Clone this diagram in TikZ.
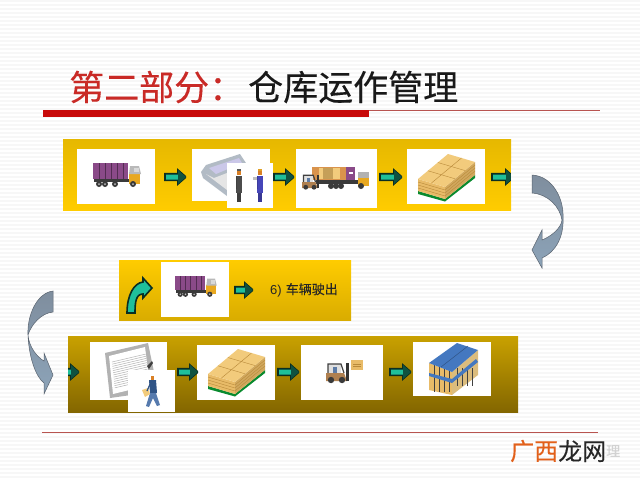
\documentclass[tikz,border=0pt]{standalone}
\usepackage{fontspec}
\usetikzlibrary{calc}
\setmainfont{Liberation Sans}
\newfontfamily\cjk[FakeBold=0.25]{Noto Sans CJK SC}
\definecolor{titlered}{HTML}{C92A26}
\definecolor{rulered}{HTML}{C80A0A}
\definecolor{thinred}{HTML}{B85450}
\definecolor{stripe}{HTML}{F7F7F7}
\definecolor{teal1}{HTML}{1FBF9A}
\definecolor{tealline}{HTML}{0A2E22}
\definecolor{cardboard}{HTML}{F2CB7C}
\definecolor{cardside}{HTML}{E8BB68}
\definecolor{cardline}{HTML}{B98A3A}
\definecolor{purplebox}{HTML}{8A4A88}
\definecolor{cabyellow}{HTML}{E8A820}
\definecolor{wheel}{HTML}{3A3A3A}
\definecolor{slate}{HTML}{7F8E9E}
\definecolor{slatelow}{HTML}{8CA3B8}
\definecolor{roofblue}{HTML}{4478C0}
\definecolor{wmorange}{HTML}{E2601A}
\definecolor{gold1}{HTML}{E6B800}
\definecolor{gold2}{HTML}{FFCC00}
\definecolor{gold3}{HTML}{D9AC00}
\definecolor{olive1}{HTML}{C9A100}
\definecolor{olive2}{HTML}{836600}
\tikzset{
  x=1pt,y=-1pt,
  whitebox/.style={fill=white,draw=none},
  blockarrow/.style={fill=teal1,draw=tealline,line width=1.6pt,line join=miter},
  curved/.style={top color=slate,bottom color=slatelow,draw=slate!70!black,line width=.5pt},
  pics/truck/.style={code={
    \fill[purplebox] (0,0) rectangle (35,16);
    \foreach \q in {6,12,18,24,30}{\draw[purplebox!60!black,line width=.5pt] (\q,0) -- (\q,16);}
    \fill[wheel] (1,16) rectangle (44,19);
    \fill[cabyellow] (36,10) rectangle (47,21);
    \fill[gray!55] (37,3) -- (46,3) -- (48,11) -- (36,11) -- cycle;
    \fill[gray!30] (41,5) rectangle (46,9);
    \foreach \q in {6,12,22,40}{\fill[wheel] (\q,21) circle (3); \fill[gray!50] (\q,21) circle (1);}
  }},
  pics/pallet/.style={code={
    \fill[green!45!black!70!teal1] (1,37) -- (28,45) -- (58,21) -- (58,24) -- (28,47.5) -- (1,40) -- cycle;
    \fill[cardside] (1,25) -- (28,33) -- (28,45) -- (1,37) -- cycle;
    \fill[cardside!90!black] (28,33) -- (58,8) -- (58,21) -- (28,45) -- cycle;
    \fill[cardboard] (1,25) -- (31,0) -- (58,8) -- (28,33) -- cycle;
    \foreach \q in {.33,.66}{
      \draw[cardline,line width=.4pt] ($(1,25)!\q!(31,0)$) -- ($(28,33)!\q!(58,8)$);
    }
    \draw[cardline,line width=.4pt] (14.5,29) -- (44.5,4);
    \foreach \q in {3,6,9}{
      \draw[cardline,line width=.4pt] (1,25+\q) -- (28,33+\q) -- (58,8+\q);
    }
  }},
  pics/forklift/.style={code={
    \fill[gray!25] (2,3) rectangle (15,12);
    \draw[gray!50!black,line width=1.2pt] (2,12) -- (2,3) -- (15,3) -- (18,12);
    \fill[roofblue!60!gray] (7,6) rectangle (11,13);
    \fill[brown!75!gray] (0,12) -- (18,12) -- (21,20) -- (0,20) -- cycle;
    \fill[gray!40!black] (20,2) rectangle (22.5,20);
    \fill[wheel] (5,19) circle (3.2) (16,19) circle (3.2);
  }},
  pics/person/.style={code={
    \fill[#1] (-2.8,7) rectangle (2.8,24);
    \fill[#1!80!black] (-2.4,24) rectangle (2.4,33);
    \fill[#1!85!black] (-3.4,7) rectangle (-1.8,20);
    \fill[brown!60!orange] (-1.8,1.5) rectangle (1.8,6);
    \fill[black!65] (-2,0) rectangle (2,2);
  }},
}
\newcommand{\rightblock}[3]{%
  \begin{scope}
  \clip (#1-1,#3-9) rectangle (#2,#3+9);
  \draw[blockarrow] (#1,#3-3.3) -- (#2-8,#3-3.3) -- (#2-8,#3-7) -- (#2,#3) -- (#2-8,#3+7) -- (#2-8,#3+3.3) -- (#1,#3+3.3) -- cycle;
  \fill[tealline!75!teal1] (#2-8,#3-7) -- (#2,#3) -- (#2-8,#3+7) -- cycle;
  \end{scope}}
\begin{document}
\begin{tikzpicture}
\useasboundingbox (0,0) rectangle (640,480);
\fill[white] (0,0) rectangle (640,480);
\foreach \q in {0,4,...,476}{\fill[stripe] (0,\q) rectangle (640,\q+2);}

% title
\node[anchor=west,inner sep=0pt,text=titlered] (t1) at (69,87) {\cjk\fontsize{35}{35}\selectfont 第二部分：};
\node[anchor=west,inner sep=0pt,text=black!90] (t2) at (248,87) {\cjk\fontsize{35}{35}\selectfont 仓库运作管理};
\draw[thinred,line width=.7pt] (43,110.5) -- (600,110.5);
\fill[rulered] (43,110) rectangle (369,117);
\draw[thinred,line width=.7pt] (42,432.5) -- (598,432.5);

% band 1
\shade[top color=gold1,bottom color=gold2] (63,139) rectangle (511,210);
\fill[whitebox] (77,149) rectangle (155,204);
\fill[whitebox] (192,149) rectangle (270,201);
\fill[whitebox] (296,149) rectangle (377,208);
\fill[whitebox] (407,149) rectangle (485,204);
\rightblock{165}{186}{177}
\rightblock{274}{294}{177}
\rightblock{380}{402}{177}
\rightblock{492}{514}{177}
\fill[white] (511,165) rectangle (517,190);
\foreach \q in {164,168,...,188}{\fill[stripe] (511,\q) rectangle (517,\q+2);}
\pic at (93,163) {truck};
% desk
\fill[slate!60] (201,172) -- (206,165) -- (240,154) -- (246,163) -- (227,172) -- (227,196) -- (203,178) -- cycle;
\fill[cyan!15!blue!20] (209,168) -- (239,158) -- (242,163) -- (216,174) -- cycle;
\fill[gray!20] (206,174) -- (214,178) -- (227,173) -- (227,190) -- cycle;
\fill[whitebox] (227,163) rectangle (273,208);
\pic at (239,169) {person=gray!60!black};
\pic at (260,169) {person=blue!45!gray};
\fill[gray!50] (253,177) rectangle (257,180);
\fill[cabyellow!80!brown] (258,169) rectangle (262,171);
% truck with forklift
\fill[brown!70!orange!85] (312,167) rectangle (346,180);
\fill[cardboard] (319,168) rectangle (340,179);
\fill[cardside!85!black] (323,168) rectangle (333,179);
\fill[purplebox] (346,167) rectangle (355,180);
\fill[white] (349,172) rectangle (353,174);
\fill[wheel] (316,180) rectangle (362,184);
\fill[cabyellow] (358,178) rectangle (369,186);
\fill[gray!60] (358,172) rectangle (369,178);
\foreach \q in {331,336,341,361}{\fill[wheel] (\q,186) circle (3);}
\pic at (302,173) [scale=.75] {forklift};
\pic at (417,154) {pallet};

% right curved arrow
\path[curved] (532,175) .. controls (552,176) and (564,198) .. (563,218)
  .. controls (564,236) and (556,252) .. (542,258) -- (542,268) -- (532,250) -- (542,230) -- (542,240)
  .. controls (552,236) and (561,228) .. (562,220)
  .. controls (560,207) and (548,194) .. (532,193) -- cycle;

% band 2
\shade[top color=gold2,bottom color=gold3] (119,260) rectangle (351,320);
\fill[whitebox] (161,262) rectangle (229,317);
\pic at (175,276) [scale=.87] {truck};
\rightblock{235}{253}{290}
\path[blockarrow] (127,313) .. controls (127,295) and (134,283) .. (143,282) -- (143,278) -- (152,288) -- (143,298) -- (143,294) .. controls (136,294) and (135,302) .. (135,313) -- cycle;
\node[anchor=west,inner sep=0pt,text=black!85] (t3) at (270,290) {\fontsize{13}{13}\selectfont 6)\hspace{4pt}\cjk 车辆驶出};

% left curved arrow
\path[curved] (53,291) .. controls (37,293) and (27,315) .. (28,335)
  .. controls (29,358) and (36,377) .. (44,383) -- (44,394) -- (53,375) -- (44,353) -- (44,361)
  .. controls (37,357) and (29,347) .. (28,335)
  .. controls (31,325) and (41,313) .. (53,312) -- cycle;

% band 3
\shade[top color=olive1,bottom color=olive2] (68,336) rectangle (518,412);
\fill[whitebox] (90,342) rectangle (167,400);
\fill[whitebox] (197,345) rectangle (275,400);
\fill[whitebox] (301,345) rectangle (383,400);
\fill[whitebox] (413,342) rectangle (491,396);
\begin{scope}
\clip (68,360) rectangle (90,385);
\rightblock{60}{79}{372}
\end{scope}
\rightblock{178}{198}{372}
\rightblock{278}{299}{372}
\rightblock{390}{411}{372}
% clipboard
\fill[gray!60] (105,353) -- (148,343) -- (154,372) -- (152,392) -- (110,398) -- cycle;
\fill[white] (109,356) -- (145,347) -- (150,385) -- (113,394) -- cycle;
\foreach \q in {0,...,12}{
  \draw[gray!60,line width=.5pt] ($(112,362)!\q/13!(115,390)$) -- ($(146,354)!\q/13!(149,382)$);
}
\fill[black!75] (147,366) -- (152,361) -- (153,363) -- (149,369) -- cycle;
\fill[whitebox] (128,370) rectangle (175,412);
% walking man
\fill[roofblue!70!black] (149,380) -- (156,380) -- (157,393) -- (150,393) -- cycle;
\fill[roofblue!70!gray] (150,393) -- (156,393) -- (160,405) -- (157,406) -- (153,398) -- (149,407) -- (146,406) -- cycle;
\fill[brown!60!orange] (150.5,376) rectangle (154,380);
\fill[cardboard] (142,390) -- (148,388) -- (150,394) -- (145,397) -- cycle;
\draw[roofblue!70!black,line width=1.2pt] (151,382) -- (147,391);
% pallet and forklift
\pic at (207,349) {pallet};
\pic at (326,361) {forklift};
\fill[cardside] (351,360) rectangle (363,370);
\draw[cardline,line width=.5pt] (353,364) -- (361,364) (353,366) -- (361,366);
% warehouse rack
\fill[cardside] (429,363) -- (452,372) -- (452,395) -- (429,390) -- cycle;
\fill[cardboard!80!gray] (452,372) -- (478,350) -- (478,375) -- (452,395) -- cycle;
\foreach \q in {434,439,444,449}{\draw[gray!50!black,line width=.5pt] (\q,365) -- (\q,392);}
\foreach \q in {457,462,467,472}{\draw[gray!50!black,line width=.5pt] (\q,368) -- (\q,386);}
\fill[roofblue] (429,376) -- (452,383) -- (478,362) -- (476,359) -- (452,379) -- (429,373) -- cycle;
\fill[roofblue] (429,363) -- (457,343) -- (478,350) -- (452,372) -- cycle;
\draw[roofblue!70!black,line width=.5pt] (441,367) -- (468,346);

% watermark
\node[anchor=west,inner sep=0pt,text=wmorange] (w1) at (510,451) {\cjk\fontsize{24}{24}\selectfont 广西};
\node[anchor=west,inner sep=0pt,text=black!85] (w2) at (558,451) {\cjk\fontsize{24}{24}\selectfont 龙网};
\node[anchor=west,inner sep=0pt,text=gray!35] (w3) at (606,451) {\cjk\fontsize{14}{14}\selectfont 理};
\end{tikzpicture}
\end{document}
